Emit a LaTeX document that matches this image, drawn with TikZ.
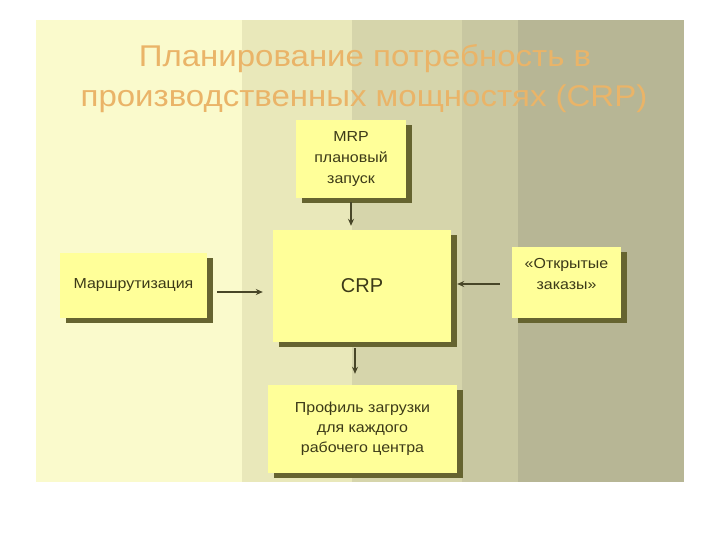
\documentclass[tikz,border=0pt]{standalone}
\usepackage{fontspec}
\setmainfont{Liberation Sans}
\newfontfamily\widefont[FakeStretch=1.1]{Liberation Sans}
\usetikzlibrary{shadows,arrows.meta}
\definecolor{bgA}{RGB}{250,250,204}
\definecolor{bgB}{RGB}{233,232,186}
\definecolor{bgC}{RGB}{214,213,171}
\definecolor{bgD}{RGB}{200,199,161}
\definecolor{bgE}{RGB}{183,182,149}
\definecolor{titlec}{RGB}{234,180,104}
\definecolor{boxfill}{RGB}{255,255,153}
\definecolor{shadowc}{RGB}{102,100,48}
\definecolor{txtc}{RGB}{60,58,24}
\definecolor{arrc}{RGB}{72,70,40}
\tikzset{
  box/.style={fill=boxfill, inner sep=0pt, text=txtc, align=center,
    font=\widefont\fontsize{14.5}{21}\selectfont,
    general shadow={fill=shadowc, shadow xshift=5.5pt, shadow yshift=-5pt}},
  boxtext/.style={inner sep=0pt, text=txtc, align=center,
    font=\widefont\fontsize{14.5}{21}\selectfont},
  titletext/.style={inner sep=0pt, anchor=base, text=titlec,
    font=\widefont\fontsize{30}{40}\selectfont},
  arr/.style={draw=arrc, line width=1.2pt, -{Stealth[length=7pt,width=6pt]}}
}
\begin{document}
\begin{tikzpicture}[x=1pt,y=-1pt]
\useasboundingbox (0,0) rectangle (720,540);
\fill[white] (0,0) rectangle (720,540);
% background stripes
\fill[bgA] (36,20) rectangle (242,482);
\fill[bgB] (242,20) rectangle (352,482);
\fill[bgC] (352,20) rectangle (462,482);
\fill[bgD] (462,20) rectangle (518,482);
\fill[bgE] (518,20) rectangle (684,482);
% title
\node[titletext] (t1) at (365,67) {Планирование потребность в};
\node[titletext] (t2) at (364,107) {производственных мощностях (CRP)};
% boxes
\node[box, minimum width=110pt, minimum height=78pt] (mrp) at (351,159) {MRP\\плановый\\запуск};
\node[box, minimum width=178pt, minimum height=112pt, font=\fontsize{20}{24}\selectfont] (crp) at (362,286) {CRP};
\node[box, minimum width=147pt, minimum height=65pt] (route) at (133.5,285.5) {Маршрутизация};
\node[box, minimum width=109pt, minimum height=71pt] (orders) at (566.5,282.5) {};
\node[boxtext] (orderstxt) at (566.5,274) {«Открытые\\заказы»};
\node[box, minimum width=189pt, minimum height=88pt, font=\widefont\fontsize{14.5}{20}\selectfont] (profile) at (362.5,429) {Профиль загрузки\\для каждого\\рабочего центра};
% arrows
\draw[arr, shorten <=4pt, shorten >=4pt] (mrp.south) -- (mrp.south |- crp.north);
\draw[arr, shorten <=10pt, shorten >=10pt] ([yshift=-6.5pt]route.east) -- ([yshift=-6pt]crp.west);
\draw[arr, shorten <=12pt, shorten >=6pt] ([yshift=-1.5pt]orders.west) -- ([yshift=-1.5pt]orders.west -| crp.east);
\draw[arr, shorten <=6pt, shorten >=11pt] ([xshift=-7pt]crp.south) -- ([xshift=-7pt]crp.south |- profile.north);
\end{tikzpicture}
\end{document}
